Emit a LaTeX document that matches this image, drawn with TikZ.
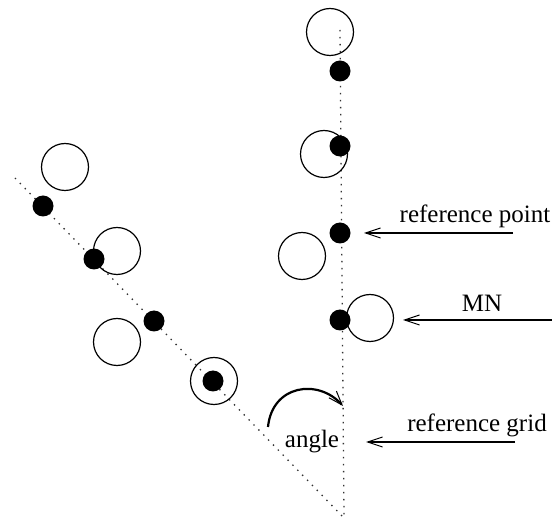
\documentclass[tikz,border=0pt]{standalone}
\usepackage{fontspec}
\setmainfont{Liberation Serif}
\usetikzlibrary{arrows.meta}
\begin{document}
\begin{tikzpicture}[x=1pt,y=-1pt,
  grid/.style={line width=1.3pt,dash pattern=on 1.4pt off 5.6pt,black!80},
  mn/.style={circle,draw,line width=1.2pt,minimum size=47pt,inner sep=0pt},
  refpt/.style={circle,fill=black,minimum size=21pt,inner sep=0pt},
  label/.style={font=\fontsize{25}{28}\selectfont},
  pointer/.style={line width=1.2pt,-{Straight Barb[length=15pt,width=10pt,line width=1pt]}}]
\useasboundingbox (0,0) rectangle (552,521);
% the two reference grids
\coordinate (apex) at (344,518);
\coordinate (vtop) at (340,30);
\coordinate (dtop) at (15,178);
\draw[grid] (vtop) -- (apex);
\draw[grid] (dtop) -- (apex);
% rotated grid: measured points and reference points
\node[mn] (m1) at (65,167) {};
\node[mn] (m2) at (117,251) {};
\node[mn] (m3) at (117,342) {};
\node[mn] (m4) at (214,381) {};
\node[refpt] (r1) at (43,206) {};
\node[refpt] (r2) at (94,259) {};
\node[refpt] (r3) at (154,321) {};
\node[refpt] (r4) at (213,381) {};
% upright grid
\node[mn] (n1) at (330,32) {};
\node[mn] (n2) at (324,154) {};
\node[mn] (n3) at (302,256) {};
\node[mn] (n4) at (370,318) {};
\node[refpt] (p1) at (340,71) {};
\node[refpt] (p2) at (340,146) {};
\node[refpt] (p3) at (340,233) {};
\node[refpt] (p4) at (340,320) {};
% rotation angle
\coordinate (a0) at (268,427);
\coordinate (a1) at (343,406);
\draw[line width=2.2pt,-{Straight Barb[length=14pt,width=10pt,line width=1pt]}]
  (a0) .. controls (272,385) and (318,378) .. (a1);
\node[label] (angle) at (312,442) {angle};
% annotations
\coordinate (rpS) at (513,233);
\coordinate (rpE) at (364,233);
\draw[pointer] (rpS) -- (rpE);
\node[label] (rpT) at (475,216) {reference point};
\coordinate (mnS) at (552,320);
\coordinate (mnE) at (403,320);
\draw[pointer] (mnS) -- (mnE);
\node[label] (mnT) at (482,303) {MN};
\coordinate (rgS) at (515,442);
\coordinate (rgE) at (366,442);
\draw[pointer] (rgS) -- (rgE);
\node[label] (rgT) at (477,425) {reference grid};
\end{tikzpicture}
\end{document}
